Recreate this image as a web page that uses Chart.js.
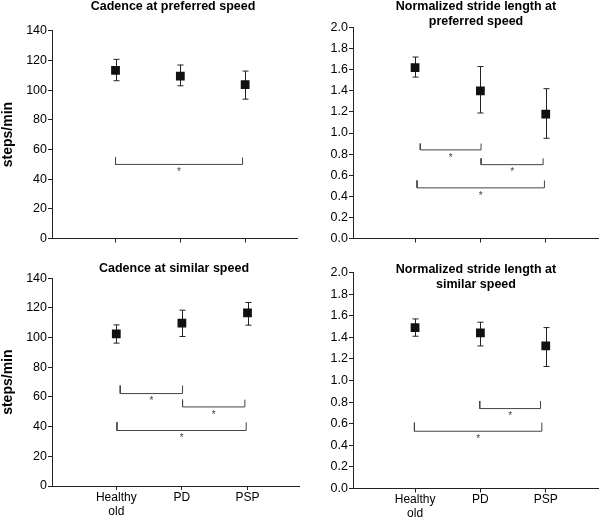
<!DOCTYPE html>
<html lang="en">
<head>
<meta charset="UTF-8">
<title>Cadence and stride length</title>
<style>
  body { margin: 0; background: #fff; }
  #wrap { position: relative; width: 600px; height: 521px; }
  canvas { position: absolute; }
</style>
</head>
<body>
<div id="wrap">
  <canvas id="cadPref" width="300" height="260" style="left:0;top:0"></canvas>
  <canvas id="stridePref" width="300" height="260" style="left:300px;top:0"></canvas>
  <canvas id="cadSim" width="300" height="261" style="left:0;top:260px"></canvas>
  <canvas id="strideSim" width="300" height="261" style="left:300px;top:260px"></canvas>
</div>
<script src="https://cdn.jsdelivr.net/npm/chart.js@4.4.1/dist/chart.umd.min.js"></script>
<script>
// groups on the x axis
const groups = [['Healthy', 'old'], ['PD'], ['PSP']];
const groupX = [1, 2, 3];

// cadence at preferred speed (steps/min), mean and error bar ends
const cadPrefMean = [113.3, 109.4, 103.6];
const cadPrefLow = [106.3, 102.9, 93.9];
const cadPrefHigh = [120.7, 116.9, 112.8];
// brackets: [from x, to x, line y, end tick y]
const cadPrefBrackets = [[1.0, 2.96, 49.9, 54.6]];

// normalized stride length at preferred speed
const stridePrefMean = [1.62, 1.40, 1.18];
const stridePrefLow = [1.53, 1.19, 0.95];
const stridePrefHigh = [1.72, 1.63, 1.42];
const stridePrefBrackets = [[1.08, 2.01, 0.84, 0.90], [2.01, 2.96, 0.70, 0.76], [1.03, 2.98, 0.48, 0.55]];

// cadence at similar speed
const cadSimMean = [102.6, 109.8, 116.7];
const cadSimLow = [96.3, 100.8, 108.4];
const cadSimHigh = [108.6, 118.5, 123.7];
const cadSimBrackets = [[1.06, 2.01, 62.3, 67.7], [2.01, 2.96, 53.3, 58.2], [1.01, 2.98, 37.4, 43.0]];

// normalized stride length at similar speed
const strideSimMean = [1.49, 1.44, 1.32];
const strideSimLow = [1.41, 1.32, 1.13];
const strideSimHigh = [1.57, 1.54, 1.49];
const strideSimBrackets = [[1.99, 2.92, 0.74, 0.81], [0.99, 2.94, 0.53, 0.61]];

const FONT = "'Liberation Sans', Arial, sans-serif";
Chart.defaults.font.family = FONT;
Chart.defaults.color = '#000';
const AXIS = '#222';

function makePanel(id, p) {
  const datasets = [{
    type: 'scatter',
    data: groupX.map((x, i) => ({x: x, y: p.mean[i]})),
    pointStyle: 'rect',
    pointRadius: 6.2,
    pointHoverRadius: 6.2,
    backgroundColor: '#111',
    borderColor: '#111',
    borderWidth: 0,
    order: 0
  }];
  p.brackets.forEach(b => {
    datasets.push({
      type: 'line',
      data: [{x: b[0], y: b[3]}, {x: b[0], y: b[2]}, {x: b[1], y: b[2]}, {x: b[1], y: b[3]}],
      borderColor: '#444',
      borderWidth: 1,
      pointRadius: 0,
      fill: false,
      tension: 0,
      order: 1
    });
  });

  const panelPlugin = {
    id: 'panel_' + id,
    beforeDatasetsDraw(chart) {
      const ctx = chart.ctx;
      const x = chart.scales.x, y = chart.scales.y;
      ctx.save();
      ctx.strokeStyle = AXIS;
      ctx.lineWidth = 1;
      p.mean.forEach((m, i) => {
        const px = Math.round(x.getPixelForValue(groupX[i])) + 0.5;
        const lo = y.getPixelForValue(p.low[i]);
        const hi = y.getPixelForValue(p.high[i]);
        ctx.beginPath();
        ctx.moveTo(px, lo); ctx.lineTo(px, hi);
        ctx.moveTo(px - 3, lo); ctx.lineTo(px + 3, lo);
        ctx.moveTo(px - 3, hi); ctx.lineTo(px + 3, hi);
        ctx.stroke();
      });
      ctx.restore();
    },
    afterDraw(chart) {
      const ctx = chart.ctx;
      const x = chart.scales.x, y = chart.scales.y;
      ctx.save();
      // significance stars
      ctx.fillStyle = '#444';
      ctx.font = '10px ' + FONT;
      ctx.textAlign = 'center';
      ctx.textBaseline = 'alphabetic';
      p.brackets.forEach(b => {
        const cx = (x.getPixelForValue(b[0]) + x.getPixelForValue(b[1])) / 2;
        ctx.fillText('*', cx, y.getPixelForValue(b[2]) + 5 + 5.7);
      });
      // panel title
      ctx.fillStyle = '#000';
      ctx.font = 'bold 12.5px ' + FONT;
      ctx.textBaseline = 'middle';
      p.title.forEach((line, i) => {
        ctx.fillText(line, p.titleX, p.titleY + i * 15);
      });
      ctx.restore();
    }
  };

  new Chart(document.getElementById(id), {
    data: {datasets: datasets},
    options: {
      responsive: false,
      animation: false,
      layout: {padding: p.padding, autoPadding: false},
      plugins: {legend: {display: false}, tooltip: {enabled: false}},
      scales: {
        x: {
          type: 'linear',
          min: p.xMin,
          max: 3.8,
          afterBuildTicks: s => { s.ticks = groupX.map(v => ({value: v})); },
          afterFit: s => { s.height = p.xHeight; },
          grid: {display: true, drawOnChartArea: false, drawTicks: true, tickLength: 4, color: AXIS},
          border: {display: true, color: AXIS, width: 1},
          ticks: {
            autoSkip: false,
            maxRotation: 0,
            padding: 0,
            font: {size: 12},
            color: '#000',
            callback: (v, i) => p.showLabels ? groups[i] : ''
          }
        },
        y: {
          min: 0,
          max: p.yMax,
          afterFit: s => { s.width = p.yWidth; },
          grid: {display: true, drawOnChartArea: false, drawTicks: true, tickLength: 4, color: AXIS},
          border: {display: true, color: AXIS, width: 1},
          ticks: {
            stepSize: p.yStep,
            padding: 1,
            font: {size: 12.5},
            color: '#000',
            callback: v => p.decimals ? v.toFixed(p.decimals) : v
          },
          title: {
            display: !!p.yTitle,
            text: p.yTitle || '',
            font: {size: 14, weight: 'bold'},
            color: '#000',
            padding: 0
          }
        }
      }
    },
    plugins: [panelPlugin]
  });
}

makePanel('cadPref', {
  mean: cadPrefMean, low: cadPrefLow, high: cadPrefHigh, brackets: cadPrefBrackets,
  title: ['Cadence at preferred speed'], titleX: 173, titleY: 7,
  yMax: 140, yStep: 20, decimals: 0, yTitle: 'steps/min', yWidth: 52,
  xMin: 0.02, xHeight: 10, showLabels: false,
  padding: {left: 0, top: 30.7, right: 3, bottom: 11.5}
});

makePanel('stridePref', {
  mean: stridePrefMean, low: stridePrefLow, high: stridePrefHigh, brackets: stridePrefBrackets,
  title: ['Normalized stride length at', 'preferred speed'], titleX: 176, titleY: 7,
  yMax: 2, yStep: 0.2, decimals: 1, yTitle: '', yWidth: 53,
  xMin: 0.05, xHeight: 10, showLabels: false,
  padding: {left: 0, top: 27.5, right: 2, bottom: 11.5}
});

makePanel('cadSim', {
  mean: cadSimMean, low: cadSimLow, high: cadSimHigh, brackets: cadSimBrackets,
  title: ['Cadence at similar speed'], titleX: 174, titleY: 9,
  yMax: 140, yStep: 20, decimals: 0, yTitle: 'steps/min', yWidth: 52,
  xMin: 0.02, xHeight: 35, showLabels: true,
  padding: {left: 0, top: 18.3, right: 0, bottom: 0}
});

makePanel('strideSim', {
  mean: strideSimMean, low: strideSimLow, high: strideSimHigh, brackets: strideSimBrackets,
  title: ['Normalized stride length at', 'similar speed'], titleX: 176, titleY: 10,
  yMax: 2, yStep: 0.2, decimals: 1, yTitle: '', yWidth: 53,
  xMin: 0.05, xHeight: 32.5, showLabels: true,
  padding: {left: 0, top: 12.5, right: 2, bottom: 0}
});
</script>
</body>
</html>
